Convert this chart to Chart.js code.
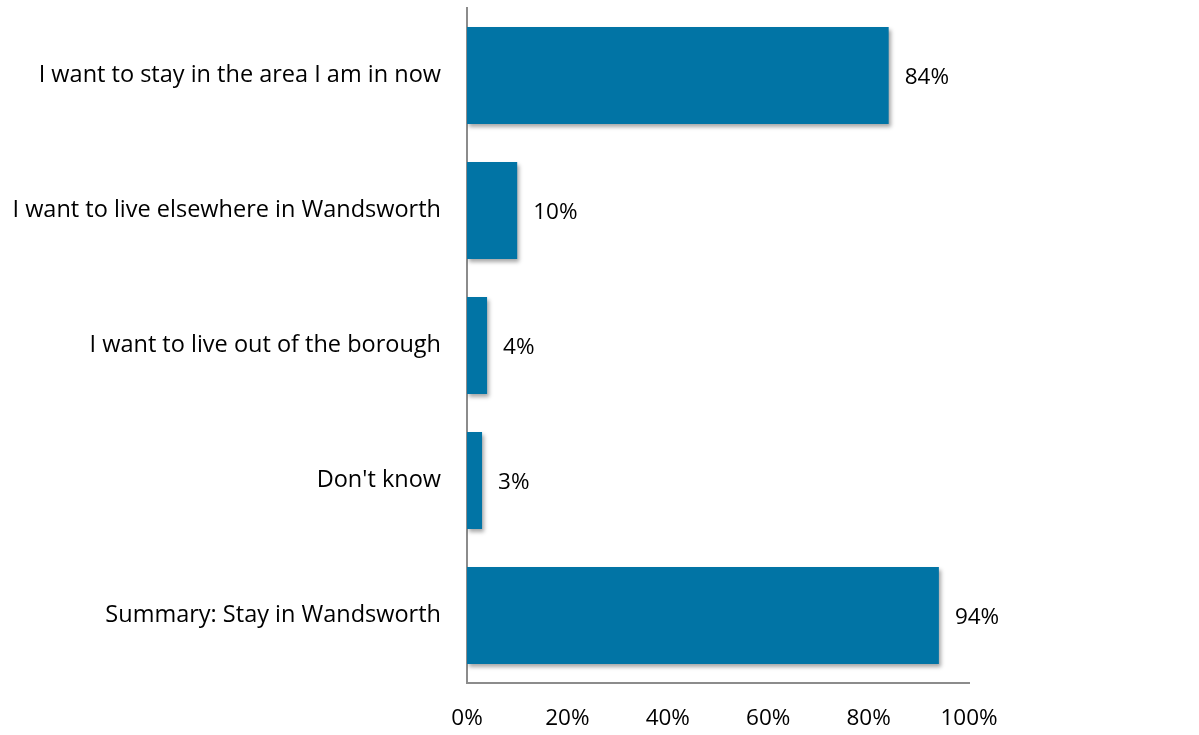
<!DOCTYPE html>
<html>
<head>
<meta charset="utf-8">
<script src="https://cdn.jsdelivr.net/npm/chart.js@4"></script>
<style>
  html, body { margin: 0; padding: 0; background: #fff; }
  .chart-box { width: 1199px; height: 735px; position: relative; }
</style>
</head>
<body>
<div class="chart-box"><canvas id="myChart"></canvas></div>
<script>
const categories = [
  'I want to stay in the area I am in now',
  'I want to live elsewhere in Wandsworth',
  'I want to live out of the borough',
  "Don't know",
  'Summary: Stay in Wandsworth'
];
const percentages = [84, 10, 4, 3, 94];
const xTicks = [0, 20, 40, 60, 80, 100];

const FONT = "'Open Sans', sans-serif";

// soft shadow under the bars, like the original
const barShadow = {
  id: 'barShadow',
  beforeDatasetDraw(chart) {
    const ctx = chart.ctx;
    ctx.save();
    ctx.shadowColor = 'rgba(0,0,0,0.35)';
    ctx.shadowBlur = 4;
    ctx.shadowOffsetX = 2;
    ctx.shadowOffsetY = 3;
  },
  afterDatasetDraw(chart) {
    chart.ctx.restore();
  }
};

// value labels to the right of each bar
const valueLabels = {
  id: 'valueLabels',
  afterDatasetsDraw(chart) {
    const ctx = chart.ctx;
    const meta = chart.getDatasetMeta(0);
    ctx.save();
    ctx.font = '22.5px ' + FONT;
    ctx.fillStyle = '#000';
    ctx.textAlign = 'left';
    ctx.textBaseline = 'middle';
    meta.data.forEach((bar, i) => {
      ctx.fillText(percentages[i] + '%', bar.x + 16, bar.y + 2);
    });
    ctx.restore();
  }
};

const ctx = document.getElementById('myChart');
new Chart(ctx, {
  type: 'bar',
  data: {
    labels: categories,
    datasets: [{
      data: percentages,
      backgroundColor: '#0174a5',
      borderWidth: 0,
      categoryPercentage: 1,
      barPercentage: 0.72
    }]
  },
  options: {
    indexAxis: 'y',
    responsive: true,
    maintainAspectRatio: false,
    animation: false,
    layout: { padding: { top: 8, right: 230, bottom: 0, left: 0 } },
    plugins: {
      legend: { display: false },
      tooltip: { enabled: false }
    },
    scales: {
      x: {
        min: 0,
        max: 100,
        afterBuildTicks: (axis) => { axis.ticks = xTicks.map(v => ({ value: v })); },
        afterFit: (axis) => { axis.height = 52; axis.paddingLeft = 0; axis.paddingRight = 0; },
        grid: { display: false, drawTicks: false },
        border: { display: true, color: '#8c8c8c', width: 2 },
        ticks: {
          padding: 22,
          color: '#000',
          font: { family: FONT, size: 22.5 },
          callback: (v) => v + '%'
        }
      },
      y: {
        afterFit: (axis) => { axis.width = 467; axis.paddingTop = 0; axis.paddingBottom = 0; },
        grid: { display: false, drawTicks: false },
        border: { display: true, color: '#8c8c8c', width: 2 },
        ticks: {
          padding: 26,
          color: '#000',
          font: { family: FONT, size: 23.5 }
        }
      }
    }
  },
  plugins: [barShadow, valueLabels]
});
</script>
</body>
</html>
